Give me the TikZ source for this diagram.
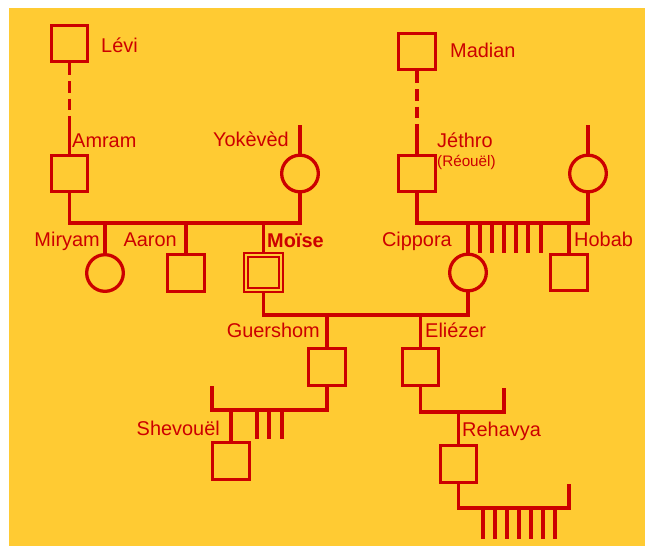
\documentclass[tikz,border=0pt]{standalone}
\usepackage{fontspec}
\setmainfont{Liberation Sans}
\definecolor{kin}{RGB}{204,0,0}
\definecolor{sand}{RGB}{255,203,51}

\begin{document}
\begin{tikzpicture}
		[   x=0.03cm, y=-0.03cm,
			mnode/.style={draw=kin,line width=2.8pt,minimum size=1.1cm,inner sep=0pt,rectangle},
			fnode/.style={draw=kin,line width=2.8pt,minimum size=1.1cm,inner sep=0pt,circle},
			tname/.style={text=kin,inner sep=0pt,font=\fontsize{17}{20}\selectfont},
		]
		\tikzset{kin line/.style={draw=kin,line width=2.8pt}}
		\useasboundingbox (0,0) rectangle (645,546);
		\fill[sand] (9,8) rectangle (645,546);
		
		\node[mnode] (levi) at (69.5,43.5) {};
		\node[mnode] (amram) at (69.5,173.5) {};
		\node[fnode] (yokeved) at (300,173.5) {};
		
		\node[mnode] (madian) at (417,51.5) {};
		\node[mnode] (jethro) at (417,173.5) {};
		\node[fnode] (j-wife) at (588,173.5) {};
		
		\node[fnode] (miryam) at (105,273) {};
		\node[mnode] (aaron) at (186,273) {};
		\node[mnode,double=sand,double distance=1.4pt,line width=2pt,minimum size=1.04cm] (moise) at (263.5,272.5) {};
		\node[fnode] (cippora) at (468,272.5) {};
		\node[mnode] (hobab) at (569,272.5) {};
		
		\node[mnode] (guershom) at (327,367) {};
		\node[mnode] (eliezer) at (420.5,367) {};
		\node[mnode] (shevouel) at (231,461) {};
		\node[mnode] (rehavya) at (458.5,464) {};
		
		\node[tname,anchor=base west] (levi-t) at (101,52) {Lévi};
		\node[tname,anchor=base west] (amram-t) at (72,147) {Amram};
		\node[tname,anchor=base east] (yokeved-t) at (289,146) {Yokèvèd};
		\node[tname,anchor=base west] (madian-t) at (450,57) {Madian};
		\node[tname,anchor=base west] (jethro-t) at (437,147) {Jéthro};
		\node[tname,anchor=base west,font=\fontsize{13}{15}\selectfont] (reouel-t) at (437,166) {(Réouël)};
		\node[tname,anchor=base east] (miryam-t) at (100,246) {Miryam};
		\node[tname,anchor=base east] (aaron-t) at (177,246) {Aaron};
		\node[tname,anchor=base west,font=\fontsize{17}{20}\selectfont\bfseries] (moise-t) at (267,247) {Moïse};
		\node[tname,anchor=base east] (cippora-t) at (452,246) {Cippora};
		\node[tname,anchor=base west] (hobab-t) at (574,246) {Hobab};
		\node[tname,anchor=base east] (guershom-t) at (320,337) {Guershom};
		\node[tname,anchor=base west] (eliezer-t) at (425,337) {Eliézer};
		\node[tname,anchor=base east] (shevouel-t) at (220,435) {Shevouël};
		\node[tname,anchor=base west] (rehavya-t) at (462,436) {Rehavya};
		
		\coordinate (levi-d) at (69.5,122);
		\coordinate (madian-d) at (417,126);
		\coordinate (yok-top) at (300,125);
		\coordinate (jw-top) at (588,125);
		\coordinate (a-l) at (69.5,223);
		\coordinate (a-r) at (300,223);
		\coordinate (j-l) at (417,223);
		\coordinate (j-r) at (588,223);
		\coordinate (m-l) at (263.5,315);
		\coordinate (m-r) at (468,315);
		\coordinate (g-stub) at (212,386);
		\coordinate (g-l) at (212,410);
		\coordinate (g-r) at (327,410);
		\coordinate (e-l) at (420.5,412);
		\coordinate (e-r) at (504,412);
		\coordinate (e-stub) at (504,388);
		\coordinate (r-l) at (458.5,508);
		\coordinate (r-r) at (569,508);
		\coordinate (r-stub) at (569,484);
		
		% ancestors
		\path[kin line,dash pattern=on 10pt off 5pt] (levi) -- (levi-d);
		\path[kin line] (levi-d) -- (amram);
		\path[kin line,dash pattern=on 10pt off 5pt] (madian) -- (madian-d);
		\path[kin line] (madian-d) -- (jethro);
		\path[kin line] (yok-top) -- (yokeved);
		\path[kin line] (jw-top) -- (j-wife);
		
		% Amram and Yokeved
		\path[kin line] (amram) -- (a-l) -- (a-r) -- (yokeved);
		\foreach \c in {miryam,aaron,moise}
		{
			\path[kin line] (\c |- a-l) -- (\c);
		}
		
		% Jethro
		\path[kin line] (jethro) -- (j-l) -- (j-r) -- (j-wife);
		\foreach \c in {cippora,hobab}
		{
			\path[kin line] (\c |- j-l) -- (\c);
		}
		\foreach \x [count=\i] in {480,492,504,516,528,541}
		{
			\coordinate (jt-\i) at (\x,253);
			\path[kin line] (jt-\i |- j-l) -- (jt-\i);
		}
		
		% Moise and Cippora
		\path[kin line] (moise) -- (m-l) -- (m-r) -- (cippora);
		\foreach \c in {guershom,eliezer}
		{
			\path[kin line] (\c |- m-l) -- (\c);
		}
		
		% Guershom
		\path[kin line] (g-stub) -- (g-l) -- (g-r) -- (guershom);
		\path[kin line] (shevouel |- g-l) -- (shevouel);
		\foreach \x [count=\i] in {257,269,282}
		{
			\coordinate (gt-\i) at (\x,439);
			\path[kin line] (gt-\i |- g-l) -- (gt-\i);
		}
		
		% Eliezer
		\path[kin line] (eliezer) -- (e-l) -- (e-r) -- (e-stub);
		\path[kin line] (rehavya |- e-l) -- (rehavya);
		
		% Rehavya
		\path[kin line] (rehavya) -- (r-l) -- (r-r) -- (r-stub);
		\foreach \x [count=\i] in {483,495,507,519,531,543,555}
		{
			\coordinate (rt-\i) at (\x,539);
			\path[kin line] (rt-\i |- r-l) -- (rt-\i);
		}
		
\end{tikzpicture}
\end{document}
